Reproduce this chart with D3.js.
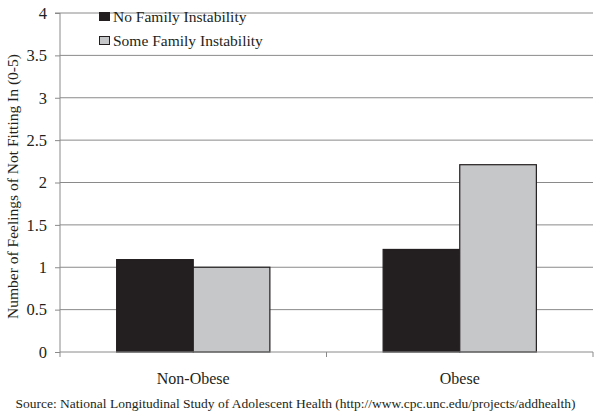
<!DOCTYPE html>
<html><head><meta charset="utf-8">
<script src="https://cdn.jsdelivr.net/npm/d3@7"></script>
<style>body{margin:0;background:#fff}svg{display:block}text{font-family:"Liberation Serif","Times New Roman",serif !important;fill:#231f20}</style>
</head><body>
<script>
const categories = ["Non-Obese", "Obese"];
const seriesNames = ["No Family Instability", "Some Family Instability"];
const noInstability = [1.09, 1.21];
const someInstability = [1.0, 2.21];
const yTicks = [0, 0.5, 1, 1.5, 2, 2.5, 3, 3.5, 4];
const colors = ["#231f20", "#c6c7c9"];

const W = 601, H = 416;
const m = {left: 60, right: 8, top: 13, bottom: 64};
const svg = d3.select("body").append("svg").attr("width", W).attr("height", H);
const x = d3.scaleBand().domain(categories).range([m.left, W - m.right]).paddingInner(0.425).paddingOuter(0.2125);
const x1 = d3.scaleBand().domain(seriesNames).range([0, x.bandwidth()]);
const y = d3.scaleLinear().domain([0, 4]).range([H - m.bottom, m.top]);

// grid
svg.append("g").selectAll("line").data(yTicks.filter(d => d > 0)).join("line")
  .attr("x1", m.left).attr("x2", W - m.right)
  .attr("y1", d => y(d)).attr("y2", d => y(d))
  .attr("stroke", "#8a8a8a").attr("stroke-width", 1);

// y axis
const ya = svg.append("g").attr("transform", `translate(${m.left},0)`)
  .call(d3.axisLeft(y).tickValues(yTicks).tickSize(5).tickPadding(8).tickFormat(d => d))
  .attr("font-family", "Liberation Serif").attr("font-size", 16.5);
ya.select(".domain").attr("stroke", "#8a8a8a").attr("d", `M-5,${y(4)}H0V${y(0)}`);
ya.selectAll(".tick line").attr("stroke", "#8a8a8a");
ya.selectAll("text").attr("fill", "#231f20");

// bars
const data = categories.map((c, i) => ({c, vals: [noInstability[i], someInstability[i]]}));
const g = svg.append("g").selectAll("g").data(data).join("g")
  .attr("transform", d => `translate(${x(d.c)},0)`);
g.selectAll("rect").data(d => d.vals.map((v, j) => ({v, s: seriesNames[j], j}))).join("rect")
  .attr("x", d => x1(d.s)).attr("width", x1.bandwidth())
  .attr("y", d => y(d.v)).attr("height", d => y(0) - y(d.v))
  .attr("fill", d => colors[d.j]).attr("stroke", "#231f20").attr("stroke-width", 1.2);

// x axis
const xa = svg.append("g").attr("transform", `translate(0,${y(0)})`);
xa.append("line").attr("x1", m.left).attr("x2", W - m.right).attr("stroke", "#8a8a8a");
const bounds = [m.left, (m.left + W - m.right) / 2, W - m.right];
xa.selectAll(".tk").data(bounds).join("line").attr("class", "tk")
  .attr("x1", d => d).attr("x2", d => d).attr("y1", 0).attr("y2", 5).attr("stroke", "#8a8a8a");
xa.selectAll(".lab").data(categories).join("text").attr("class", "lab")
  .attr("x", d => x(d) + x.bandwidth() / 2).attr("y", 32)
  .attr("text-anchor", "middle").style("font-size", "16px").text(d => d);

// y title
svg.append("text").attr("transform", `translate(18,${(y(0) + y(4)) / 2 + 4}) rotate(-90)`)
  .attr("text-anchor", "middle").style("font-size", "15.5px")
  .text("Number of Feelings of Not Fitting In (0-5)");

// legend
const lg = svg.append("g").attr("transform", "translate(99,12)");
seriesNames.forEach((s, i) => {
  lg.append("rect").attr("x", 0.5).attr("y", i * 24 + 0.5).attr("width", 10).attr("height", 8)
    .attr("fill", colors[i]).attr("stroke", "#231f20").attr("stroke-width", 1);
  lg.append("text").attr("x", 14).attr("y", i * 24 + 10).style("font-size", "15.5px").text(s);
});

// source
svg.append("text").attr("x", W / 2 - 5).attr("y", 408).attr("text-anchor", "middle").style("font-size", "13.5px")
  .text("Source: National Longitudinal Study of Adolescent Health (http://www.cpc.unc.edu/projects/addhealth)");
</script>
</body></html>
